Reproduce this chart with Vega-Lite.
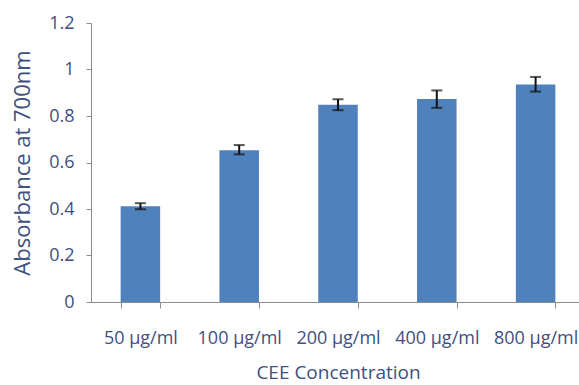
{
  "$schema": "https://vega.github.io/schema/vega-lite/v6.json",
  "autosize": "none",
  "width": 494,
  "height": 279,
  "padding": {"left": 91, "top": 23, "right": 0, "bottom": 83},
  "background": "white",
  "config": {
    "view": {"stroke": null},
    "font": "Open Sans"
  },
  "data": {
    "values": [
      {"conc": "50 µg/ml", "abs": 0.412, "lo": 0.399, "hi": 0.425},
      {"conc": "100 µg/ml", "abs": 0.653, "lo": 0.635, "hi": 0.675},
      {"conc": "200 µg/ml", "abs": 0.848, "lo": 0.825, "hi": 0.872},
      {"conc": "400 µg/ml", "abs": 0.873, "lo": 0.835, "hi": 0.91},
      {"conc": "800 µg/ml", "abs": 0.936, "lo": 0.905, "hi": 0.968}
    ]
  },
  "encoding": {
    "x": {
      "field": "conc",
      "type": "nominal",
      "sort": null,
      "scale": {"paddingInner": 0.6, "paddingOuter": 0.3},
      "axis": {
        "title": "CEE Concentration",
        "labelAngle": 0,
        "labelOverlap": false,
        "labelFontSize": 18,
        "labelColor": "#40507f",
        "labelPadding": 21,
        "titleFontSize": 19,
        "titleFontWeight": "normal",
        "titleColor": "#40507f",
        "titlePadding": 16,
        "domainColor": "#8c8c8c",
        "tickColor": "#8c8c8c",
        "tickBand": "extent",
        "tickSize": 6
      }
    }
  },
  "layer": [
    {
      "mark": {"type": "bar", "color": "#4f81bd"},
      "encoding": {
        "y": {
          "field": "abs",
          "type": "quantitative",
          "title": "Absorbance at 700nm",
          "scale": {"domain": [0, 1.2]},
          "axis": {
            "values": [0, 0.2, 0.4, 0.6, 0.8, 1, 1.2],
            "format": "~g",
            "grid": false,
            "labelFontSize": 18,
            "labelColor": "#40507f",
            "labelPadding": 12,
            "titleFontSize": 22,
            "titleFontWeight": "normal",
            "titleColor": "#40507f",
            "titlePadding": 14,
            "domainColor": "#8c8c8c",
            "tickColor": "#8c8c8c",
            "tickSize": 5
          }
        }
      }
    },
    {
      "mark": {
        "type": "errorbar",
        "color": "#111111",
        "thickness": 2,
        "ticks": {"size": 11, "color": "#111111", "strokeWidth": 2}
      },
      "encoding": {
        "y": {"field": "lo", "type": "quantitative", "title": "Absorbance at 700nm"},
        "y2": {"field": "hi"}
      }
    }
  ]
}
